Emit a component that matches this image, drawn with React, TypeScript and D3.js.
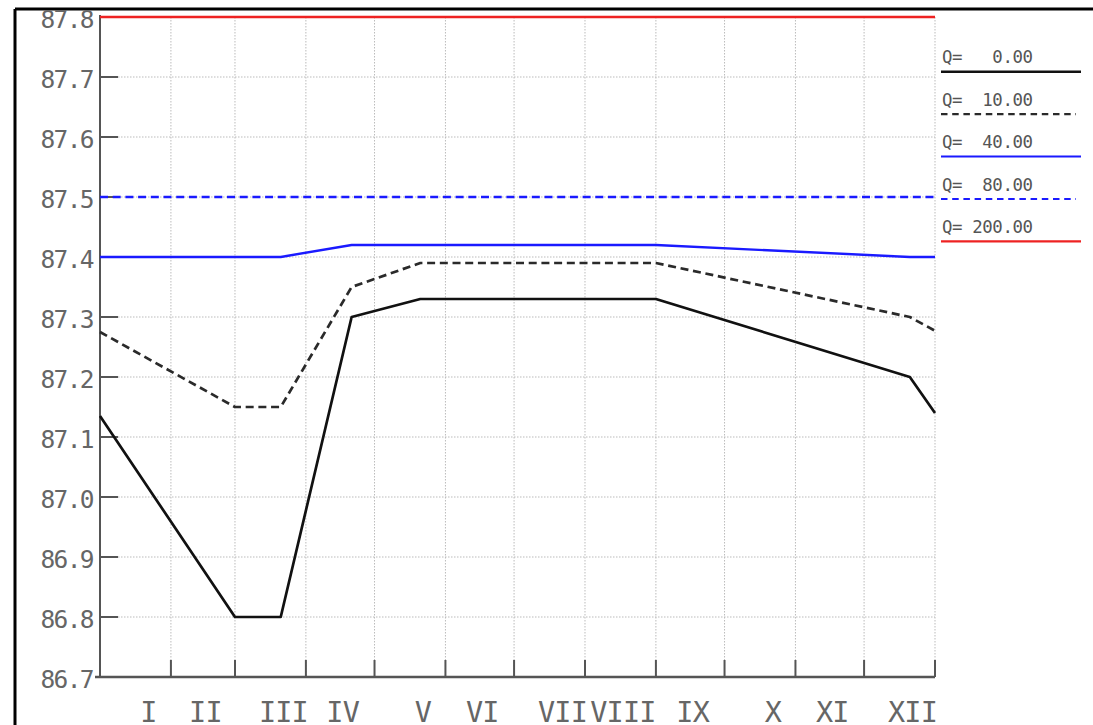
import React from "react";
import * as d3 from "d3";

// ---- data ----
const days = [0, 59, 79, 110, 140, 243, 354, 365];
const q0 = [87.135, 86.8, 86.8, 87.3, 87.33, 87.33, 87.2, 87.14];
const q10 = [87.275, 87.15, 87.15, 87.35, 87.39, 87.39, 87.3, 87.277];
const q40 = [87.4, 87.4, 87.4, 87.42, 87.42, 87.42, 87.4, 87.4];
const q80 = [87.5, 87.5, 87.5, 87.5, 87.5, 87.5, 87.5, 87.5];
const q200 = [87.8, 87.8, 87.8, 87.8, 87.8, 87.8, 87.8, 87.8];

const monthEnds = [31, 59, 90, 120, 151, 181, 212, 243, 273, 304, 334, 365];
const monthLabels = ["I", "II", "III", "IV", "V", "VI", "VII", "VIII", "IX", "X", "XI", "XII"];
const yTicks = [86.7, 86.8, 86.9, 87.0, 87.1, 87.2, 87.3, 87.4, 87.5, 87.6, 87.7, 87.8];
const legendLabels = ["Q=   0.00", "Q=  10.00", "Q=  40.00", "Q=  80.00", "Q= 200.00"];

const series = [
  { values: q0, color: "#111111", dash: null, width: 2.7 },
  { values: q10, color: "#2a2a2a", dash: "8,4.7", width: 2.7 },
  { values: q40, color: "#1a1aff", dash: null, width: 2.3 },
  { values: q80, color: "#1a1aff", dash: "8,4.7", width: 2.3 },
  { values: q200, color: "#ee2222", dash: null, width: 2.6 },
];

const W = 1093;
const H = 725;

export default function App() {
  const x = d3.scaleLinear().domain([0, 365]).range([100, 935]);
  const y = d3.scaleLinear().domain([86.7, 87.8]).range([677, 17]);
  const line = d3
    .line<number>()
    .x((_, i) => x(days[i]))
    .y((v) => y(v));

  const font = "'DejaVu Sans Mono', monospace";
  const monthStarts = [0, ...monthEnds.slice(0, -1)];

  return (
    <svg
      width={W}
      height={H}
      style={{ position: "fixed", left: 0, top: 0, background: "#fff" }}
    >
      <rect x={0} y={0} width={W} height={H} fill="#fff" />
      {/* outer frame */}
      <line x1={15} y1={9} x2={W} y2={9} stroke="#000" strokeWidth={3} />
      <line x1={15} y1={9} x2={15} y2={H} stroke="#000" strokeWidth={3} />

      {/* grid */}
      {yTicks.slice(1, -1).map((t) => (
        <line
          key={"hg" + t}
          x1={x(0)}
          x2={x(365)}
          y1={y(t)}
          y2={y(t)}
          stroke="#bbb"
          strokeWidth={1}
          strokeDasharray="1.5,1.5"
        />
      ))}
      {monthEnds.map((d) => (
        <line
          key={"vg" + d}
          x1={x(d)}
          x2={x(d)}
          y1={y(87.8)}
          y2={y(86.7)}
          stroke="#bbb"
          strokeWidth={1}
          strokeDasharray="1.5,1.5"
        />
      ))}

      {/* axes */}
      <line x1={x(0)} x2={x(0)} y1={15} y2={y(86.7)} stroke="#555" strokeWidth={2} />
      <line x1={x(0) - 5} x2={x(365)} y1={y(86.7)} y2={y(86.7)} stroke="#555" strokeWidth={2.4} />
      {yTicks.map((t) => (
        <g key={"yt" + t}>
          <line x1={x(0)} x2={x(0) + 18} y1={y(t)} y2={y(t)} stroke="#555" strokeWidth={2} />
          <text
            x={93}
            y={y(t) + 10.5}
            textAnchor="end"
            fontFamily={font}
            fontSize={24.5}
            letterSpacing={-1.6}
            fill="#666"
          >
            {t.toFixed(1)}
          </text>
        </g>
      ))}
      {monthEnds.map((d) => (
        <line key={"xt" + d} x1={x(d)} x2={x(d)} y1={y(86.7) - 17} y2={y(86.7)} stroke="#555" strokeWidth={2} />
      ))}
      {monthLabels.map((m, i) => {
        const mid = (x(monthStarts[i]) + x(monthEnds[i])) / 2;
        const off = m.length % 2 === 1 ? 13 : 2.5;
        return (
          <text
            key={"xl" + m}
            x={mid + off}
            y={722}
            textAnchor="middle"
            fontFamily={font}
            fontSize={28.5}
            letterSpacing={-0.8}
            fill="#666"
          >
            {m}
          </text>
        );
      })}

      {/* series */}
      {series.map((s, i) => (
        <path
          key={"s" + i}
          d={line(s.values) || ""}
          fill="none"
          stroke={s.color}
          strokeWidth={s.width}
          strokeDasharray={s.dash || undefined}
          strokeLinejoin="round"
        />
      ))}

      {/* legend */}
      {legendLabels.map((lab, i) => {
        const by = 63.3 + i * 42.4;
        const s = series[i];
        return (
          <g key={"lg" + i}>
            <text
              x={942}
              y={by}
              fontFamily={font}
              fontSize={17.4}
              letterSpacing={-0.4}
              fill="#555"
              style={{ whiteSpace: "pre" }}
            >
              {lab}
            </text>
            <line
              x1={941}
              x2={s.dash ? 1076 : 1081}
              y1={by + 8.4}
              y2={by + 8.4}
              stroke={s.color}
              strokeWidth={s.width - 0.3}
              strokeDasharray={s.dash ? "6.5,4.7" : undefined}
            />
          </g>
        );
      })}
    </svg>
  );
}
